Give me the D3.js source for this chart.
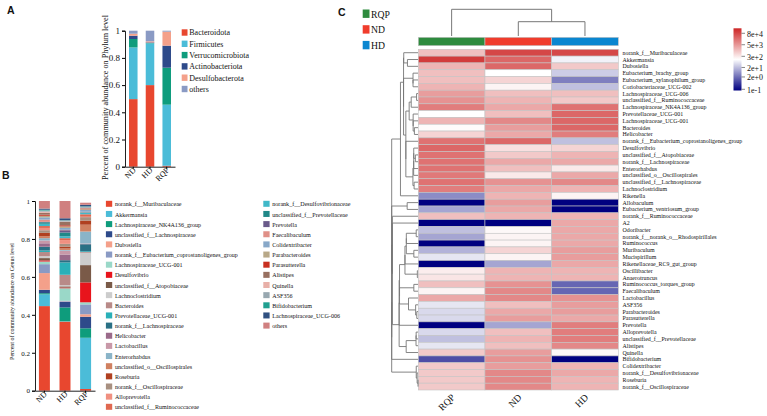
<!DOCTYPE html>
<html><head><meta charset="utf-8">
<script src="https://cdn.jsdelivr.net/npm/d3@7"></script>
<style>
body{margin:0;background:#fff}
svg{display:block}
text{font-family:"Liberation Serif","Times New Roman",serif;fill:#111}
.panel{font-family:"Liberation Sans",Arial,sans-serif;font-weight:bold}
</style>
</head><body>
<svg id="c" width="767" height="416"></svg>
<script>
// ---------------- DATA ----------------
const groupsAB = ["ND","HD","RQP"];

const phyla = ["Bacteroidota","Firmicutes","Verrucomicrobiota","Actinobacteriota","Desulfobacterota","others"];
const phylumColors = ["#E8472F","#4BBCD8","#0E9C7C","#2E4A8A","#F4A08A","#8A9AC4"];
const phylumND  = [0.497,0.380,0.062,0.024,0.015,0.022];
const phylumHD  = [0.600,0.307,0.003,0.004,0.008,0.078];
const phylumRQP = [0.007,0.449,0.272,0.162,0.103,0.007];

const genera = ["norank_f__Muribaculaceae","Akkermansia","Lachnospiraceae_NK4A136_group","unclassified_f__Lachnospiraceae","Dubosiella","norank_f__Eubacterium_coprostanoligenes_group","Lachnospiraceae_UCG-001","Desulfovibrio","unclassified_f__Atopobiaceae","Lachnoclostridium","Bacteroides","Prevotellaceae_UCG-001","norank_f__Lachnospiraceae","Helicobacter","Lactobacillus","Enterorhabdus","unclassified_o__Oscillospirales","Roseburia","norank_f__Oscillospiraceae","Alloprevotella","unclassified_f__Ruminococcaceae","norank_f__Desulfovibrionaceae","unclassified_f__Prevotellaceae","Prevotella","Faecalibaculum","Colidextribacter","Parabacteroides","Parasutterella","Alistipes","Quinella","ASF356","Bifidobacterium","Lachnospiraceae_UCG-006","others"];
const genusColors = ["#E8472F","#4BBCD8","#0E9C7C","#2E4A8A","#F4A08A","#8A9AC4","#9AD8C8","#E8141C","#7A5A48","#CCCCCC","#B88A88","#2AB0B8","#2A7085","#9A6A8A","#C898A8","#8AB4C8","#D08060","#B04020","#A89080","#F09080","#E06850","#40B8C8","#208888","#6A5A8A","#E09088","#88A8C8","#B8A888","#C83020","#987060","#E8B0A8","#98A8B0","#20A090","#305080","#D08080"];
const genusND  = [0.446,0.062,0.006,0.018,0.088,0.047,0.014,0.006,0.012,0.010,0.022,0.008,0.020,0.018,0.015,0.012,0.010,0.018,0.014,0.012,0.010,0.012,0.008,0.002,0.012,0.012,0.008,0.006,0.010,0.006,0.006,0.004,0.006,0.040];
const genusHD  = [0.364,0.002,0.073,0.029,0.002,0.004,0.066,0.004,0.006,0.006,0.055,0.065,0.012,0.030,0.020,0.004,0.008,0.010,0.014,0.020,0.010,0.010,0.020,0.012,0.002,0.010,0.008,0.006,0.018,0.002,0.006,0.001,0.010,0.091];
const genusRQP = [0.009,0.270,0.050,0.061,0.013,0.052,0.011,0.105,0.091,0.065,0.004,0.004,0.037,0.002,0.002,0.063,0.036,0.022,0.018,0.002,0.013,0.008,0.002,0.001,0.002,0.010,0.004,0.003,0.002,0.002,0.006,0.002,0.008,0.011];
const axisTicks = [0,0.2,0.4,0.6,0.8,1];

const heatCols = ["RQP","ND","HD"];
const heatColColors = ["#2E8B3E","#F03C2C","#0A86D0"];
const heatRows = ["norank_f__Muribaculaceae","Akkermansia","Dubosiella","Eubacterium_brachy_group","Eubacterium_xylanophilum_group","Coriobacteriaceae_UCG-002","Lachnospiraceae_UCG-006","unclassified_f__Ruminococcaceae","Lachnospiraceae_NK4A136_group","Prevotellaceae_UCG-001","Lachnospiraceae_UCG-001","Bacteroides","Helicobacter","norank_f__Eubacterium_coprostanoligenes_group","Desulfovibrio","unclassified_f__Atopobiaceae","norank_f__Lachnospiraceae","Enterorhabdus","unclassified_o__Oscillospirales","unclassified_f__Lachnospiraceae","Lachnoclostridium","Rikenella","Allobaculum","Eubacterium_ventriosum_group","norank_f__Ruminococcaceae","A2","Odoribacter","norank_f__norank_o__Rhodospirillales","Ruminococcus","Muribaculum","Mucispirillum","Rikenellaceae_RC9_gut_group","Oscillibacter","Anaerotruncus","Ruminococcus_torques_group","Faecalibaculum","Lactobacillus","ASF356","Parabacteroides","Parasutterella","Prevotella","Alloprevotella","unclassified_f__Prevotellaceae","Alistipes","Quinella","Bifidobacterium","Colidextribacter","norank_f__Desulfovibrionaceae","Roseburia","norank_f__Oscillospiraceae"];
// abundance values per row, one array per column
const heatRQP = [1300,120000,1900,1300,1300,1900,4100,6000,12600,140,1900,160,630,18300,26600,18300,18300,18300,14600,18300,12600,4.9,0.08,10,1300,0.08,22,10,0.08,15,67,0.08,260,350,1300,210,2800,67,46,46,0.08,46,22,67,920,0.75,920,920,920,920];
const heatND  = [80000,27000,26000,140,630,210,1300,1900,2800,1300,8700,4100,2800,26600,430,920,2800,1300,300,6000,2800,1900,4100,2800,1900,0.08,180,210,210,630,210,10,1900,1900,6000,8700,8700,1300,2800,4100,10,1300,1900,1300,4100,6000,4100,8700,8700,8700];
const heatHD  = [78000,97,920,32,3.3,22,1300,920,18300,26600,26600,26600,12600,22,630,1900,2800,300,2800,8700,1900,210,0.08,0.08,1900,2800,2800,2800,2800,4100,4100,2800,1900,1900,1.6,1.6,6000,4100,4100,2800,12600,12600,12600,8700,180,0.08,1900,2800,1900,1900];
const colTreeHeights = [1.0, 0.536]; // root (RQP | ND+HD), ND+HD
const legendTicks = [80000,5000,300,20,2,0.1];
const legendTickLabels = ["8e+4","5e+3","3e+2","2e+1","2e+0","1e-1"];

// ---------------- HELPERS ----------------
const svg = d3.select("#c");
// scale font size of a selection so that a reference text reaches a target width
function fitGroup(sel, refText, target){
  let node=null; sel.each(function(){ if(this.textContent===refText) node=this; });
  if(!node) node=sel.node();
  const fs=parseFloat(node.getAttribute("font-size"));
  const w=node.getComputedTextLength();
  if(w>0) sel.attr("font-size",fs*target/w);
}

// Panel letters
svg.append("text").attr("class","panel").attr("x",7).attr("y",14).attr("font-size",10.5).text("A");
svg.append("text").attr("class","panel").attr("x",2).attr("y",178.5).attr("font-size",10.5).text("B");
svg.append("text").attr("class","panel").attr("x",338).attr("y",16).attr("font-size",10.5).text("C");

function stackedPanel(opt){
  const g = svg.append("g");
  const x = d3.scaleBand().domain(groupsAB).range(opt.xr).paddingInner(opt.pi).paddingOuter(opt.po);
  const y = d3.scaleLinear().domain([0,1]).range(opt.yr);
  const keys = opt.keys;
  const rows = groupsAB.map((gname,gi)=>{const o={group:gname}; keys.forEach((k,ki)=>o[k]=opt.vals[gi][ki]); return o;});
  const stack = d3.stack().keys(keys)(rows);
  g.selectAll("g.s").data(stack).join("g").attr("fill",(d,i)=>opt.colors[i])
    .selectAll("rect").data(d=>d).join("rect")
    .attr("x",d=>x(d.data.group)).attr("width",x.bandwidth())
    .attr("y",d=>y(d[1])).attr("height",d=>Math.max(0,y(d[0])-y(d[1])));
  const ya = g.append("g").attr("transform",`translate(${opt.xr[0]},0)`)
    .call(d3.axisLeft(y).tickValues(axisTicks).tickFormat(d3.format("~g")).tickSize(3).tickPadding(2));
  ya.selectAll("text").attr("font-size",opt.tickFs).attr("font-family","Liberation Serif");
  ya.select(".domain").attr("stroke","#222");
  const xa = g.append("g").attr("transform",`translate(0,${opt.yr[0]})`)
    .call(d3.axisBottom(x).tickSize(2).tickSizeOuter(0));
  xa.select(".domain").attr("stroke","#222");
  xa.selectAll("text").attr("font-size",opt.xFs).attr("font-family","Liberation Serif")
    .attr("text-anchor","end").attr("dy",null).attr("y",0)
    .attr("transform",`translate(${opt.xdx},${opt.xdy}) rotate(-45)`);
  const t = g.append("text").attr("transform",`translate(${opt.titleX},${opt.titleY}) rotate(-90)`)
    .attr("text-anchor","middle").attr("font-size",8).text(opt.title);
  fitGroup(t, opt.title, opt.titleLen);
  return {x,y};
}

stackedPanel({xr:[125,175],pi:0.49,po:0.24,yr:[166.7,30.7],keys:phyla,colors:phylumColors,
  vals:[phylumND,phylumHD,phylumRQP],tickFs:9,xFs:8,xdx:3,xdy:4,
  title:"Percent of community abundance on Phylum level",titleX:107.5,titleY:97.5,titleLen:165});

stackedPanel({xr:[35,95],pi:0.467,po:0.19,yr:[390.7,201],keys:genera,colors:genusColors,
  vals:[genusND,genusHD,genusRQP],tickFs:7,xFs:8,xdx:3,xdy:4,
  title:"Percent of community abundance on Genus level",titleX:14,titleY:301.5,titleLen:117});

// Legend A
const legA = svg.append("g").selectAll("g").data(phyla).join("g")
  .attr("transform",(d,i)=>`translate(181.7,${29.3+i*11.3})`);
legA.append("rect").attr("width",5.8).attr("height",6.4).attr("fill",(d,i)=>phylumColors[i]);
const legAT = legA.append("text").attr("x",7.6).attr("y",6).attr("font-size",8.4).text(d=>d);
fitGroup(legAT,"Bacteroidota",40.7);

// Legend B
const legB = svg.append("g").selectAll("g").data(genera).join("g")
  .attr("transform",(d,i)=>{const col=i<21?0:1; const r=i<21?i:i-21; return `translate(${col?263.3:105.9},${200.8+r*10.15})`;});
legB.append("rect").attr("width",6.3).attr("height",6).attr("fill",(d,i)=>genusColors[i]);
const legBT = legB.append("text").attr("x",9).attr("y",5.6).attr("font-size",6.2).text(d=>d);
fitGroup(legBT,"norank_f__Muribaculaceae",66.7);

// ---------------- Heatmap ----------------
const hx = d3.scaleBand().domain(heatCols).range([418.3,618.3]);
const hy = d3.scaleBand().domain(heatRows).range([49.3,390]);
const color = d3.scaleLinear().domain([-1.1,2.15,5.4]).range(["#000080","#FFFFFF","#CD2626"]).clamp(true);
const cols = [heatRQP,heatND,heatHD];
const cells = [];
heatRows.forEach((r,ri)=>heatCols.forEach((c,ci)=>cells.push({r,c,v:cols[ci][ri]})));
svg.append("g").selectAll("rect").data(cells).join("rect")
  .attr("x",d=>hx(d.c)).attr("y",d=>hy(d.r)).attr("width",hx.bandwidth()).attr("height",hy.bandwidth())
  .attr("fill",d=>color(Math.log10(d.v))).attr("stroke","#c4c4c4").attr("stroke-width",0.6);

// column annotation strip
svg.append("g").selectAll("rect").data(heatCols).join("rect")
  .attr("x",d=>hx(d)).attr("y",37.3).attr("width",hx.bandwidth()).attr("height",8.4)
  .attr("fill",(d,i)=>heatColColors[i]).attr("stroke","#c4c4c4").attr("stroke-width",0.6);

// row labels
const rowT = svg.append("g").selectAll("text").data(heatRows).join("text")
  .attr("x",622.5).attr("y",d=>hy(d)+hy.bandwidth()/2+2).attr("font-size",6).text(d=>d);
fitGroup(rowT,"norank_f__Muribaculaceae",65);

// column labels
const colT = svg.append("g").selectAll("text").data(heatCols).join("text")
  .attr("text-anchor","end").attr("font-size",10)
  .attr("transform",d=>`translate(${hx(d)+hx.bandwidth()/2+4},${398}) rotate(-45)`).text(d=>d);
fitGroup(colT,"ND",14);

// column dendrogram
const cy = d3.scaleLinear().domain([0,1]).range([36,9.3]);
const cxc = c=>hx(c)+hx.bandwidth()/2;
const ndhdMid = (cxc("ND")+cxc("HD"))/2;
const dg = svg.append("g").attr("stroke","#777").attr("fill","none").attr("stroke-width",1);
dg.append("path").attr("d",`M${cxc("ND")},${cy(0)}V${cy(colTreeHeights[1])}H${cxc("HD")}V${cy(0)}`);
dg.append("path").attr("d",`M${cxc("RQP")},${cy(0)}V${cy(colTreeHeights[0])}H${ndhdMid}V${cy(colTreeHeights[1])}`);

// row dendrogram: order-preserving average-linkage clustering of log abundances
const logs = heatRows.map((r,i)=>[Math.log10(heatRQP[i]),Math.log10(heatND[i]),Math.log10(heatHD[i])]);
let clusters = logs.map((v,i)=>({members:[i],h:0,y:hy(heatRows[i])+hy.bandwidth()/2}));
function cdist(a,b){let s=0,n=0;for(const i of a.members)for(const j of b.members){let d=0;for(let k=0;k<3;k++)d+=(logs[i][k]-logs[j][k])**2;s+=Math.sqrt(d);n++;}return s/n;}
while(clusters.length>1){
  let best=0,bd=Infinity;
  for(let i=0;i<clusters.length-1;i++){const d=cdist(clusters[i],clusters[i+1]); if(d<bd){bd=d;best=i;}}
  const a=clusters[best],b=clusters[best+1];
  const node={members:a.members.concat(b.members),h:Math.max(bd,a.h,b.h),y:(a.y+b.y)/2,l:a,r:b};
  clusters.splice(best,2,node);
}
const root=clusters[0];
const rx=d3.scaleLinear().domain([0,root.h]).range([418,391.7]);
const rg=svg.append("g").attr("stroke","#777").attr("fill","none").attr("stroke-width",0.9);
(function walk(n){ if(!n.l) return;
  rg.append("path").attr("d",`M${rx(n.l.h)},${n.l.y}H${rx(n.h)}V${n.r.y}H${rx(n.r.h)}`);
  walk(n.l); walk(n.r);})(root);

// group legend (top-left of C)
const legC = svg.append("g").selectAll("g").data(heatCols).join("g")
  .attr("transform",(d,i)=>`translate(362.7,${9.5+i*15.7})`);
legC.append("rect").attr("width",6.8).attr("height",8.4).attr("fill",(d,i)=>heatColColors[i]);
const legCT = legC.append("text").attr("x",8.3).attr("y",8).attr("font-size",11).text(d=>d);
fitGroup(legCT,"ND",14);

// color legend
const defs=svg.append("defs");
const grad=defs.append("linearGradient").attr("id","cg").attr("x1",0).attr("y1",1).attr("x2",0).attr("y2",0);
const ly=d3.scaleLinear().domain([-1,4.903]).range([89.3,33.3]);
const lyTop=28.3, lyBot=90.5;
d3.range(0,1.0001,0.05).forEach(t=>{const yy=lyBot+(lyTop-lyBot)*t; grad.append("stop").attr("offset",t).attr("stop-color",color(ly.invert(yy)));});
svg.append("rect").attr("x",733.5).attr("y",lyTop).attr("width",8).attr("height",lyBot-lyTop).attr("fill","url(#cg)");
const lt=svg.append("g").selectAll("g").data(legendTicks).join("g").attr("transform",d=>`translate(741.5,${ly(Math.log10(d))})`);
lt.append("line").attr("x2",3.5).attr("stroke","#555").attr("stroke-width",0.7);
const ltT = lt.append("text").attr("x",5.5).attr("y",3.2).attr("font-size",9.5).text((d,i)=>legendTickLabels[i]);
fitGroup(ltT,"8e+4",16);
</script>
</body></html>
